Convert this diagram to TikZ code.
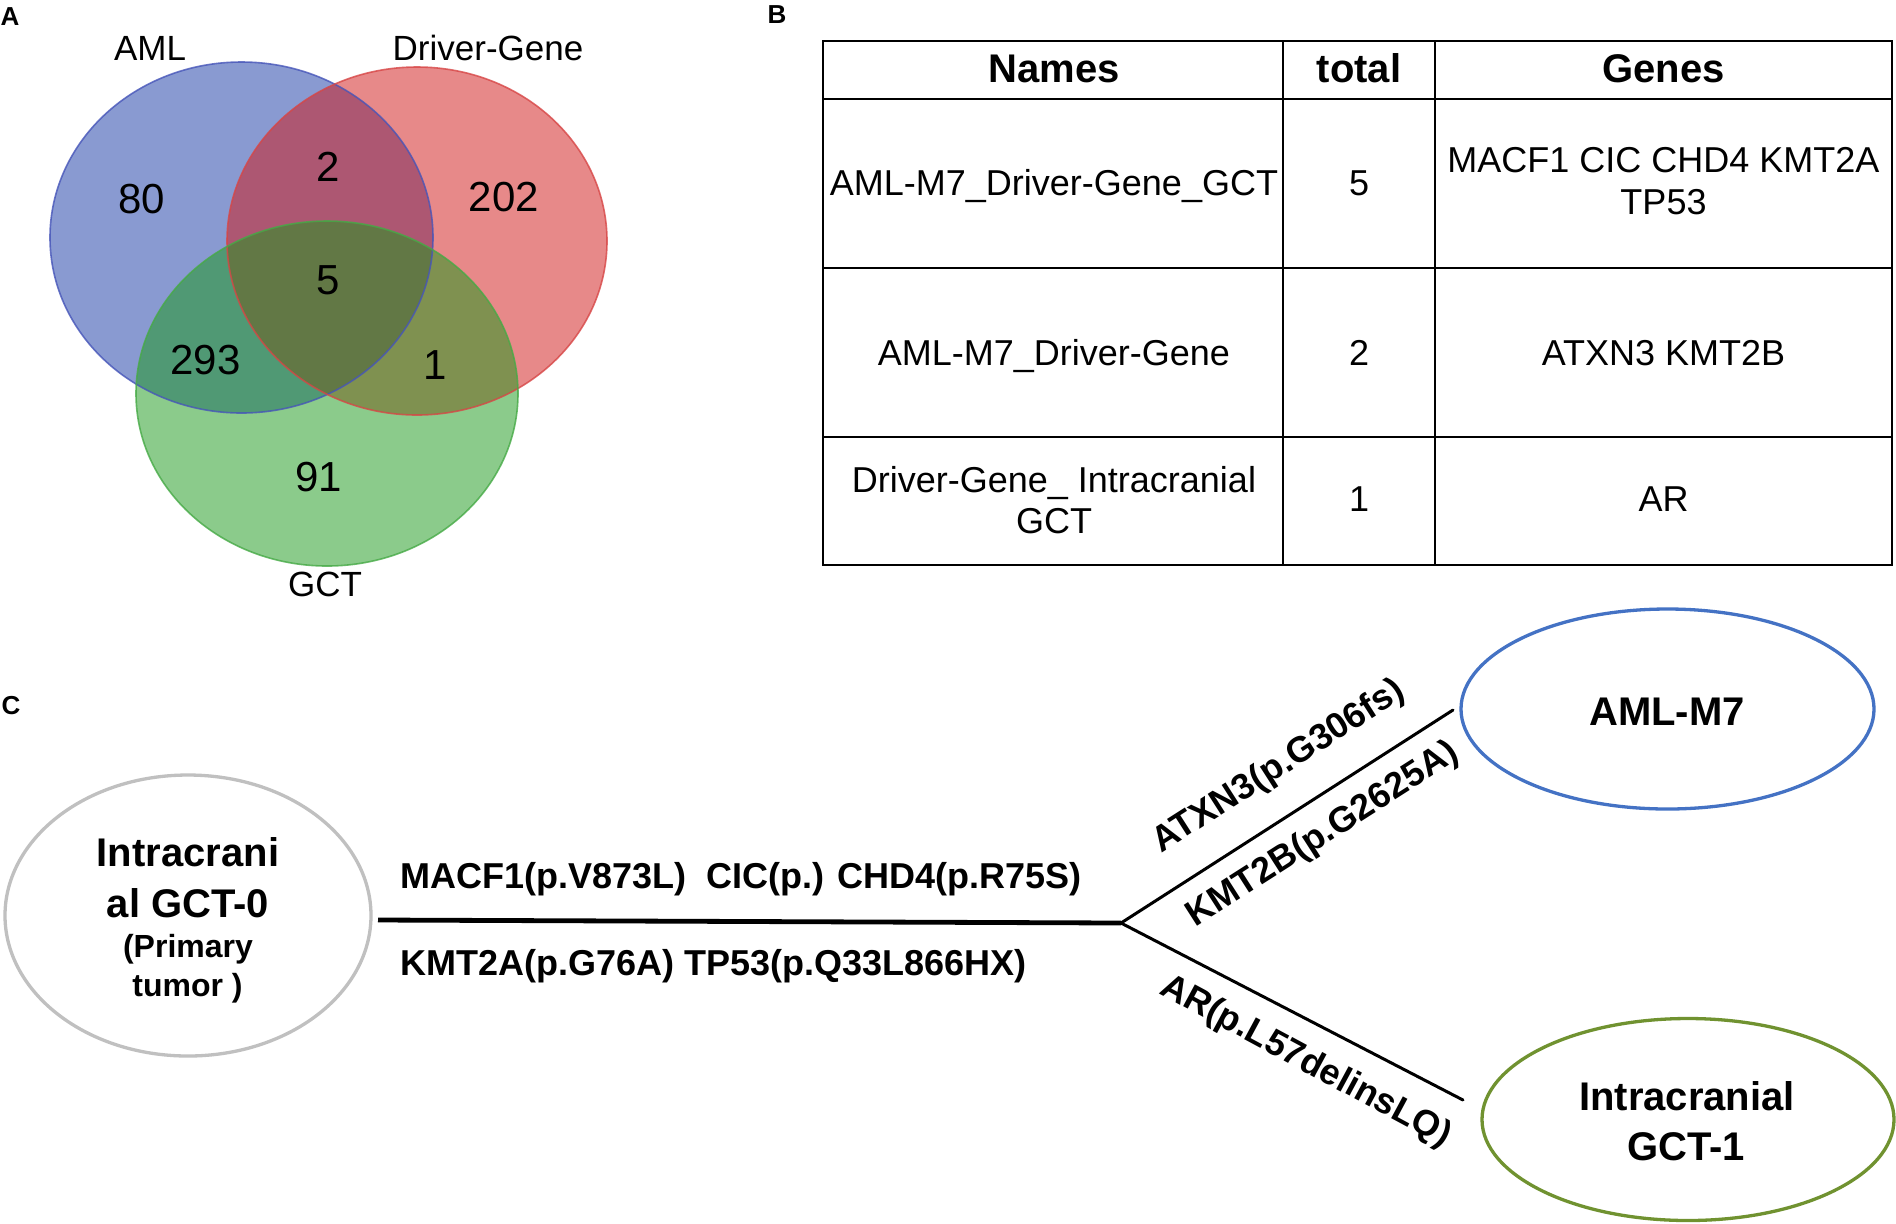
\documentclass[tikz,border=0pt]{standalone}
\usepackage{fontspec}
\setmainfont{Liberation Sans}
\usetikzlibrary{shapes.geometric}
\definecolor{vblue}{RGB}{21,55,165}
\definecolor{vred}{RGB}{209,21,21}
\definecolor{vgreen}{RGB}{25,153,25}
\definecolor{eblue}{RGB}{70,85,185}
\definecolor{ered}{RGB}{215,70,70}
\definecolor{egreen}{RGB}{70,170,70}
\definecolor{ngray}{RGB}{192,192,192}
\definecolor{nblue}{RGB}{68,114,196}
\definecolor{ngreen}{RGB}{112,146,48}
\begin{document}
\begin{tikzpicture}[x=0.5pt,y=-0.5pt,
  plabel/.style={font=\bfseries\fontsize{13}{15}\selectfont,inner sep=0pt,anchor=center},
  venntxt/.style={font=\fontsize{17.5}{21}\selectfont,inner sep=0pt,anchor=base},
  vennnum/.style={font=\fontsize{21}{25}\selectfont,inner sep=0pt,anchor=center},
  tabhead/.style={font=\bfseries\fontsize{20}{24}\selectfont,inner sep=0pt,anchor=base},
  tabtxt/.style={font=\fontsize{18}{21}\selectfont,inner sep=0pt,anchor=base},
  tabline/.style={line width=1.3pt,black},
  mutlbl/.style={font=\bfseries\fontsize{18}{21}\selectfont,inner sep=0pt,anchor=base},
  bigtxt/.style={font=\bfseries\fontsize{20}{24}\selectfont,inner sep=0pt,anchor=base},
  smalltxt/.style={font=\bfseries\fontsize{16}{19}\selectfont,inner sep=0pt,anchor=base},
  sample/.style={ellipse,draw,line width=1.65pt,inner sep=0pt},
  trunk/.style={line width=2.4pt,black},
  branch/.style={line width=1.5pt,black}
]
\fill[white] (0,0) rectangle (1896,1223);
\path[use as bounding box] (0,0) rectangle (1896,1223);

% ---------- Panel A : Venn ----------
\node[plabel] (labA) at (10,17) {A};
\fill[vblue,fill opacity=0.5] (241.5,237.5) ellipse [x radius=191.5,y radius=175.5];
\fill[vred,fill opacity=0.5] (417,241) ellipse [x radius=190,y radius=174];
\fill[vgreen,fill opacity=0.5] (327,393.5) ellipse [x radius=191,y radius=172.5];
\draw[eblue,line width=0.8pt,draw opacity=0.8] (241.5,237.5) ellipse [x radius=191.5,y radius=175.5];
\draw[ered,line width=0.8pt,draw opacity=0.8] (417,241) ellipse [x radius=190,y radius=174];
\draw[egreen,line width=0.8pt,draw opacity=0.8] (327,393.5) ellipse [x radius=191,y radius=172.5];

\node[venntxt] (setAML) at (150,60) {AML};
\node[venntxt] (setDG) at (488,60.4) {Driver-Gene};
\node[venntxt] (setGCT) at (325,596) {GCT};

\node[vennnum] (v80) at (142,199) {80};
\node[vennnum] (v2) at (328,167) {2};
\node[vennnum] (v202) at (504,197) {202};
\node[vennnum] (v5) at (328,280) {5};
\node[vennnum] (v293) at (205.5,360.5) {293};
\node[vennnum] (v1) at (435,365) {1};
\node[vennnum] (v91) at (319,477) {91};

% ---------- Panel B : table ----------
\node[plabel] (labB) at (777,15) {B};
\draw[tabline] (823,41) rectangle (1892,565);
\draw[tabline] (823,99) -- (1892,99);
\draw[tabline] (823,268) -- (1892,268);
\draw[tabline] (823,437) -- (1892,437);
\draw[tabline] (1283,41) -- (1283,565);
\draw[tabline] (1435,41) -- (1435,565);

\node[tabhead] (hNames) at (1054,82.5) {Names};
\node[tabhead] (hTotal) at (1359,82.5) {total};
\node[tabhead] (hGenes) at (1663.5,82.5) {Genes};

\node[tabtxt] (r1n) at (1054,195) {AML-M7\_Driver-Gene\_GCT};
\node[tabtxt] (r1t) at (1359,195) {5};
\node[tabtxt] (r1ga) at (1663.5,172) {MACF1 CIC CHD4 KMT2A};
\node[tabtxt] (r1gb) at (1663.5,214) {TP53};

\node[tabtxt] (r2n) at (1054,365) {AML-M7\_Driver-Gene};
\node[tabtxt] (r2t) at (1359,365) {2};
\node[tabtxt] (r2g) at (1663.5,365) {ATXN3 KMT2B};

\node[tabtxt] (r3na) at (1054,492.5) {Driver-Gene\_ Intracranial};
\node[tabtxt] (r3nb) at (1054,533.5) {GCT};
\node[tabtxt] (r3t) at (1359,511) {1};
\node[tabtxt] (r3g) at (1663.5,511) {AR};

% ---------- Panel C : tree ----------
\node[plabel] (labC) at (11,706) {C};

\node[sample,draw=ngray,minimum width=183pt,minimum height=140.5pt] (n0) at (188,915.5) {};
\node[bigtxt] (n0a) at (188,866) {Intracrani};
\node[bigtxt] (n0b) at (188,917) {al GCT-0};
\node[smalltxt] (n0c) at (188,957) {(Primary};
\node[smalltxt] (n0d) at (187.5,996) {tumor )};

\node[sample,draw=nblue,minimum width=206.5pt,minimum height=100pt] (m7) at (1667.5,709) {};
\node[bigtxt] (m7a) at (1667,725) {AML-M7};

\node[sample,draw=ngreen,minimum width=206pt,minimum height=101pt] (g1) at (1688,1119.5) {};
\node[bigtxt] (g1a) at (1687,1110) {Intracranial};
\node[bigtxt] (g1b) at (1686,1160) {GCT-1};

\coordinate (h0) at (378,920);
\coordinate (j) at (1121,923);
\coordinate (u1) at (1453,710);
\coordinate (l1) at (1463,1100);

\draw[trunk] (h0) -- (j);
\draw[branch,line cap=round] (j) -- (u1);
\draw[branch,line cap=round] (j) -- (l1);

\node[mutlbl,anchor=base west] (mutA) at (400,888) {MACF1(p.V873L)\ \ CIC(p.) CHD4(p.R75S)};
\node[mutlbl,anchor=base west] (mutB) at (400,975) {KMT2A(p.G76A) TP53(p.Q33L866HX)};
\node[mutlbl,rotate=32.6] (mutC) at (1284,775) {ATXN3(p.G306fs)};
\node[mutlbl,rotate=32.6] (mutD) at (1328,843) {KMT2B(p.G2625A)};
\node[mutlbl,rotate=-28.3] (mutE) at (1301,1070) {AR(p.L57delinsLQ)};
\end{tikzpicture}
\end{document}
